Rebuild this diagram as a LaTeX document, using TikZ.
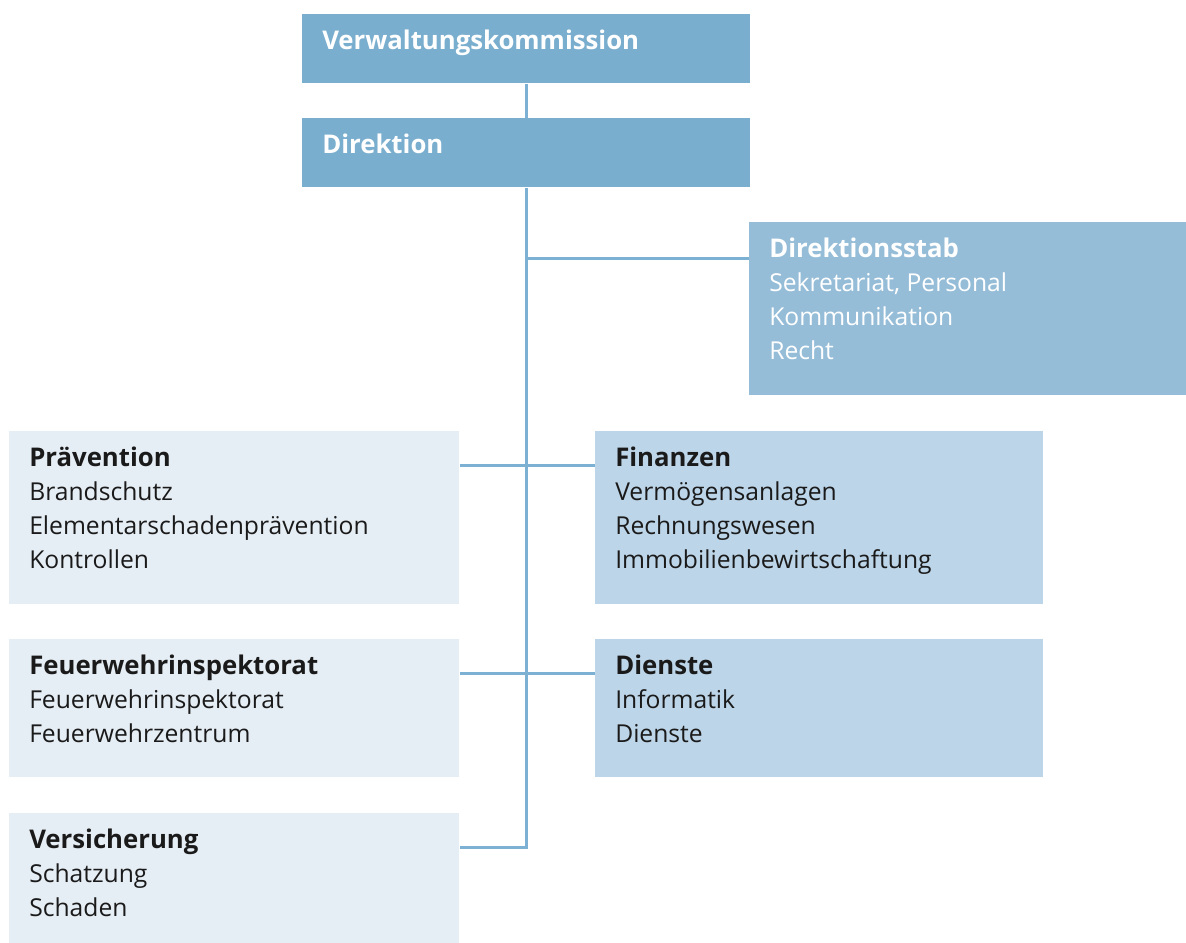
\documentclass[tikz,border=0pt]{standalone}
\usepackage{fontspec}
\setmainfont{Open Sans}
\usepackage{tikz}
\usetikzlibrary{positioning}
\definecolor{kopf}{RGB}{122,174,206}
\definecolor{stab}{RGB}{150,189,216}
\definecolor{rechts}{RGB}{189,213,232}
\definecolor{links}{RGB}{230,238,245}
\definecolor{linie}{RGB}{125,177,211}
\definecolor{schrift}{RGB}{26,26,26}
\newlength\px
\setlength\px{0.75pt}
\newcommand\orgbox[3]{\parbox[t][#2\px][t]{#1\px}{\rule{0pt}{35\px}#3}}
\newcommand\orghead[1]{{\fontsize{19.3pt}{25.5pt}\selectfont\bfseries #1}}

\begin{document}
\begin{tikzpicture}[x=0.75pt, y=-0.75pt,
    unit/.style={anchor=north west, inner xsep=20\px, inner ysep=0pt, align=left,
      font=\fontsize{18.5pt}{25.5pt}\selectfont, text=schrift},
    link/.style={draw=linie, line width=2.25pt}]
  \useasboundingbox (0,0) rectangle (1186,943);

  \node[unit, fill=kopf, text=white] (vk) at (302,14)
    {\orgbox{408}{69}{\orghead{Verwaltungskommission}}};
  \node[unit, fill=kopf, text=white] (dir) at (302,118)
    {\orgbox{408}{69}{\orghead{Direktion}}};
  \node[unit, fill=stab, text=white] (stab) at (749,222)
    {\orgbox{397}{173}{\orghead{Direktionsstab}\\Sekretariat, Personal\\Kommunikation\\Recht}};
  \node[unit, fill=links] (prav) at (9,431)
    {\orgbox{410}{173}{\orghead{Prävention}\\Brandschutz\\Elementarschadenprävention\\Kontrollen}};
  \node[unit, fill=rechts] (fin) at (595,431)
    {\orgbox{408}{173}{\orghead{Finanzen}\\Vermögensanlagen\\Rechnungswesen\\Immobilienbewirtschaftung}};
  \node[unit, fill=links] (feu) at (9,639)
    {\orgbox{410}{138}{\orghead{Feuerwehrinspektorat}\\Feuerwehrinspektorat\\Feuerwehrzentrum}};
  \node[unit, fill=rechts] (dien) at (595,639)
    {\orgbox{408}{138}{\orghead{Dienste}\\Informatik\\Dienste}};
  \node[unit, fill=links] (vers) at (9,813)
    {\orgbox{410}{130}{\orghead{Versicherung}\\Schatzung\\Schaden}};

  \coordinate (stab-h) at ([yshift=-36\px]stab.north west);
  \coordinate (prav-h) at ([yshift=-34\px]prav.north east);
  \coordinate (fin-h) at ([yshift=-34\px]fin.north west);
  \coordinate (feu-h) at ([yshift=-34\px]feu.north east);
  \coordinate (dien-h) at ([yshift=-34\px]dien.north west);
  \coordinate (vers-h) at ([yshift=-34\px]vers.north east);

  \draw[link] (vk.south) -- (dir.north);
  \draw[link] (dir.south) |- (vers-h);
  \draw[link] (dir.south |- stab-h) -- (stab-h);
  \draw[link] (prav-h) -- (fin-h);
  \draw[link] (feu-h) -- (dien-h);
\end{tikzpicture}
\end{document}
